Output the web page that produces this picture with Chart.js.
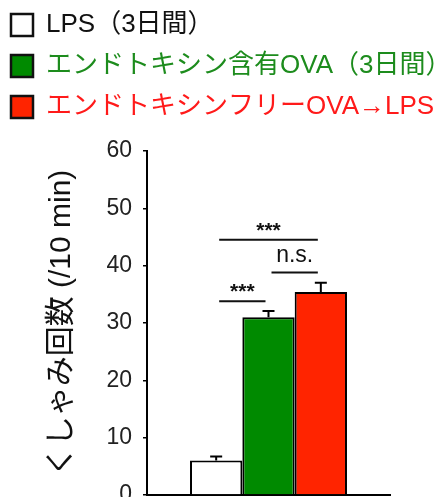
<!DOCTYPE html>
<html lang="ja">
<head>
<meta charset="utf-8">
<title>くしゃみ回数</title>
<script src="https://cdn.jsdelivr.net/npm/chart.js@4/dist/chart.umd.min.js"></script>
<style>
  html, body { margin: 0; padding: 0; background: #fff; }
  #wrap { width: 443px; height: 497px; position: relative; }
</style>
</head>
<body>
<div id="wrap"><canvas id="chart"></canvas></div>
<script>
// Groups (one bar each)
const groupNames = [
  'LPS（3日間）',
  'エンドトキシン含有OVA（3日間）',
  'エンドトキシンフリーOVA→LPS'
];
// Mean sneezes per 10 min and SEM
const sneezeMeans = [6.0, 31.0, 35.4];
const sneezeSem = [0.7, 1.1, 1.6];
// Bar fills and legend text colours
const barColors = ['#ffffff', '#008a00', '#ff2400'];
const labelColors = ['#111111', '#1d8c1d', '#ff1a1a'];
// Y axis ticks
const yTicks = [0, 10, 20, 30, 40, 50, 60];
// Significance brackets: bar pairs, marks and bracket heights (data units)
const sigPairs = [[0, 1], [1, 2], [0, 2]];
const sigMarks = ['***', 'n.s.', '***'];
const sigLevels = [33.8, 38.8, 44.5];

const FONT = '"Liberation Sans", "Noto Sans CJK JP", sans-serif';

// Error bars (upper half only, with a cap)
const errorBars = {
  id: 'errorBars',
  afterDatasetsDraw(chart) {
    const { ctx } = chart;
    const y = chart.scales.y;
    ctx.save();
    ctx.strokeStyle = '#000';
    ctx.lineWidth = 2;
    chart.data.datasets.forEach((ds, i) => {
      const bar = chart.getDatasetMeta(i).data[0];
      if (!bar) return;
      const top = y.getPixelForValue(ds.data[0] + sneezeSem[i]);
      ctx.beginPath();
      ctx.moveTo(bar.x, bar.y);
      ctx.lineTo(bar.x, top);
      ctx.moveTo(bar.x - 6, top);
      ctx.lineTo(bar.x + 6, top);
      ctx.stroke();
    });
    ctx.restore();
  }
};

// Significance brackets with their labels
const sigBrackets = {
  id: 'sigBrackets',
  afterDatasetsDraw(chart) {
    const { ctx } = chart;
    const y = chart.scales.y;
    ctx.save();
    ctx.strokeStyle = '#111';
    ctx.fillStyle = '#111';
    ctx.lineWidth = 2;
    ctx.textAlign = 'center';
    ctx.textBaseline = 'alphabetic';
    sigPairs.forEach(([a, b], k) => {
      const xa = chart.getDatasetMeta(a).data[0].x + 3;
      const xb = chart.getDatasetMeta(b).data[0].x - 3;
      const ly = y.getPixelForValue(sigLevels[k]);
      ctx.beginPath();
      ctx.moveTo(xa, ly);
      ctx.lineTo(xb, ly);
      ctx.stroke();
      const stars = sigMarks[k] === '***';
      ctx.font = stars ? 'bold 21px ' + FONT : '23px ' + FONT;
      ctx.fillText(sigMarks[k], (xa + xb) / 2, ly - (stars ? 3 : 11));
    });
    ctx.restore();
  }
};

new Chart(document.getElementById('chart'), {
  type: 'bar',
  data: {
    labels: [''],
    datasets: groupNames.map((name, i) => ({
      label: name,
      data: [sneezeMeans[i]],
      xAxisID: 'x',
      yAxisID: 'y',
      backgroundColor: barColors[i],
      borderColor: '#000',
      borderWidth: 2,
      categoryPercentage: 0.646,
      barPercentage: 1
    }))
  },
  options: {
    responsive: true,
    maintainAspectRatio: false,
    animation: false,
    layout: { padding: { top: -3, left: -4, right: 0, bottom: 2 } },
    plugins: {
      tooltip: { enabled: false },
      legend: {
        position: 'top',
        align: 'start',
        onClick: null,
        labels: {
          boxWidth: 22,
          boxHeight: 22,
          padding: 15,
          font: { family: FONT, size: 26 },
          generateLabels(chart) {
            return chart.data.datasets.map((ds, i) => ({
              text: ds.label,
              fillStyle: barColors[i],
              strokeStyle: '#111',
              lineWidth: 2.5,
              fontColor: labelColors[i],
              hidden: false,
              datasetIndex: i
            }));
          }
        }
      }
    },
    scales: {
      x: {
        type: 'category',
        position: 'bottom',
        grid: { display: false, drawTicks: false },
        ticks: { display: false },
        border: { display: true, color: '#000', width: 2 },
        afterFit(s) { s.height = 0; }
      },
      gap: {
        type: 'category',
        position: 'top',
        grid: { display: false, drawTicks: false },
        ticks: { display: false },
        border: { display: false },
        afterFit(s) { s.height = 21; }
      },
      y: {
        type: 'linear',
        position: 'left',
        min: 0,
        max: 60,
        afterBuildTicks(s) { s.ticks = yTicks.map(v => ({ value: v })); },
        afterFit(s) { s.width = 151; s.paddingTop = 0; s.paddingBottom = 0; },
        ticks: {
          color: '#222',
          padding: 11,
          font: { family: FONT, size: 23 }
        },
        grid: {
          display: true,
          drawOnChartArea: false,
          drawTicks: true,
          tickLength: 4,
          color: '#000',
          lineWidth: 1.5
        },
        border: { display: true, color: '#000', width: 2 },
        title: {
          display: true,
          text: 'くしゃみ回数 (/10 min)',
          color: '#111',
          font: { family: FONT, size: 30 },
          padding: { top: 48, bottom: 0 }
        }
      },
      side: {
        type: 'linear',
        position: 'right',
        min: 0,
        max: 1,
        grid: { display: false, drawTicks: false },
        ticks: { display: false },
        border: { display: false },
        afterFit(s) { s.width = 53; s.paddingTop = 0; s.paddingBottom = 0; }
      }
    }
  },
  plugins: [errorBars, sigBrackets]
});
</script>
</body>
</html>
